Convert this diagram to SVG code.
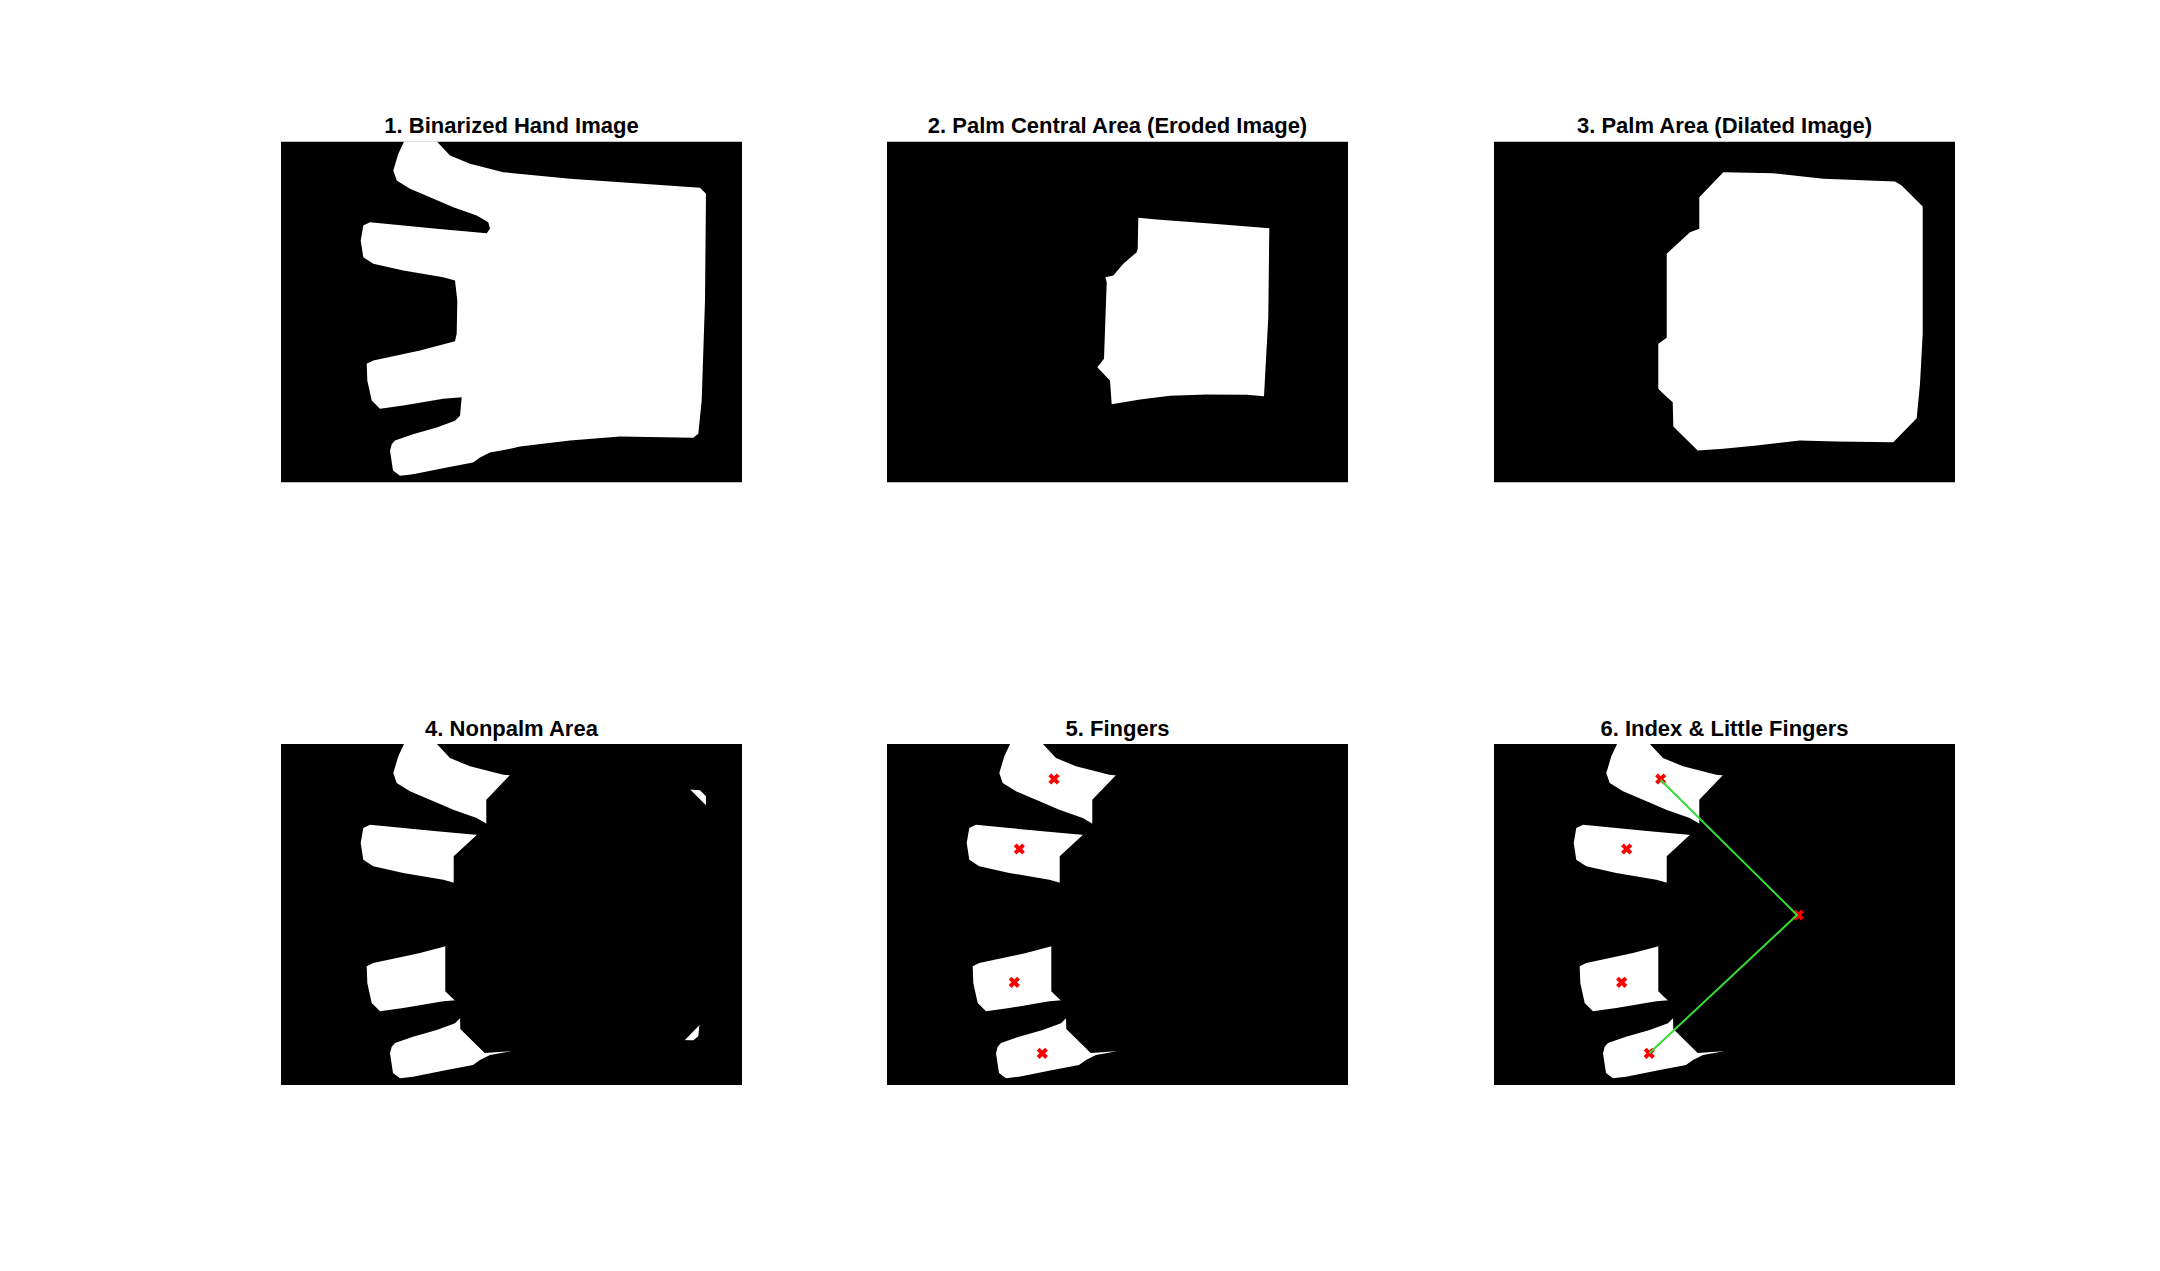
<svg xmlns="http://www.w3.org/2000/svg" xmlns:xlink="http://www.w3.org/1999/xlink" width="2160" height="1271" viewBox="0 0 2160 1271">
<style>
.title{font-family:"Liberation Sans",Arial,Helvetica,sans-serif;font-weight:bold;font-size:22px;fill:#000;text-anchor:middle}
.panel{fill:#000}
.white{fill:#fff}
.mk{stroke:#ff0000;stroke-width:4;fill:none}
.gl{stroke:#33dd33;stroke-width:2;fill:none;stroke-linejoin:miter}
</style>
<defs>
<clipPath id="pclip"><rect x="0" y="0" width="461" height="341"/></clipPath>
<clipPath id="fclip"><rect x="0" y="0" width="300" height="341"/></clipPath>
<path id="hand" d="M124,-2 L154,-2 L169,14 L189,22.3 L222.3,30.7 L289,37.3 L419,46.3 L425,52.3 L424,159 L420.7,259 L417.3,292.3 L412.3,296.3 L339,295 L289,299 L239,305 L223,308.6 L209,311 L199,316 L192,321 L165.7,326 L132,332.7 L119,334.3 L112,329 L109,309.3 L110.7,302.7 L114,299 L132,292.7 L155.7,286 L174,279.3 L179,274.3 L180.7,255.7 L162.3,257.3 L122.3,264 L99,267.3 L90.7,259 L86.3,239 L85.7,222.3 L92.3,219 L139,209 L174,199.7 L175.7,192.3 L176.3,159 L174,139 L162.3,135.7 L122.3,129 L92.3,122.3 L82.3,115.7 L79.7,99 L82.3,84 L89,80.7 L122.3,84 L155.7,87.3 L205.7,91.7 L209,87.3 L207.3,80.7 L195.7,74 L172.3,65.7 L149,55.7 L129,47.3 L115.7,39 L112.3,29 L117.3,12.3 Z"/>
<path id="dilated" d="M229.3,30.7 L279.3,31.7 L329.3,37.3 L401,40 L407.7,44 L428.7,65 L428.7,192.3 L426,242.3 L422.7,276.7 L399.3,300.7 L342.7,300 L306,299 L262.7,304 L229.3,307.3 L203.7,309 L179.3,285 L178.7,260.7 L169.3,252.3 L164.3,247.3 L164.3,202.3 L172.7,196.3 L172.7,112.3 L196,90.7 L205.3,87.3 L205.3,55.7 Z"/>
<path id="eroded" d="M251.3,76.3 L269.7,78 L326.3,82.3 L382.3,86.7 L381.3,175.7 L377,254.7 L359.7,253.3 L319.7,253 L283,254.3 L253,258 L224.7,262.7 L223,239 L210.3,225.7 L217,217.3 L219.7,140.7 L218.3,135.7 L226.3,134 L236.3,122.3 L249.7,110.7 L250.7,107.3 Z"/>
<path id="x" d="M-4.2,-4.2 L4.2,4.2 M-4.2,4.2 L4.2,-4.2"/>
</defs>
<rect width="2160" height="1271" fill="#fff"/>

<g id="panel1">
<text class="title" x="511.5" y="133">1. Binarized Hand Image</text>
<g transform="translate(281,141.5)" clip-path="url(#pclip)">
<rect class="panel" width="461" height="341"/>
<use xlink:href="#hand" class="white"/>
</g>
</g>

<g id="panel2">
<text class="title" x="1117.5" y="133">2. Palm Central Area (Eroded Image)</text>
<g transform="translate(887,141.5)" clip-path="url(#pclip)">
<rect class="panel" width="461" height="341"/>
<use xlink:href="#eroded" class="white"/>
</g>
</g>

<g id="panel3">
<text class="title" x="1724.5" y="133">3. Palm Area (Dilated Image)</text>
<g transform="translate(1494,141.5)" clip-path="url(#pclip)">
<rect class="panel" width="461" height="341"/>
<use xlink:href="#dilated" class="white"/>
</g>
</g>

<g id="panel4">
<text class="title" x="511.5" y="736">4. Nonpalm Area</text>
<g transform="translate(281,744)" clip-path="url(#pclip)">
<rect class="panel" width="461" height="341"/>
<use xlink:href="#hand" class="white"/>
<use xlink:href="#dilated" class="panel"/>
</g>
</g>

<g id="panel5">
<text class="title" x="1117.5" y="736">5. Fingers</text>
<g transform="translate(887,744)" clip-path="url(#pclip)">
<rect class="panel" width="461" height="341"/>
<g clip-path="url(#fclip)"><use xlink:href="#hand" class="white"/></g>
<use xlink:href="#dilated" class="panel"/>
<use xlink:href="#x" class="mk" x="167" y="35"/>
<use xlink:href="#x" class="mk" x="132.3" y="105"/>
<use xlink:href="#x" class="mk" x="127.3" y="238.3"/>
<use xlink:href="#x" class="mk" x="155.3" y="309.3"/>
</g>
</g>

<g id="panel6">
<text class="title" x="1724.5" y="736">6. Index &amp; Little Fingers</text>
<g transform="translate(1494,744)" clip-path="url(#pclip)">
<rect class="panel" width="461" height="341"/>
<g clip-path="url(#fclip)"><use xlink:href="#hand" class="white"/></g>
<use xlink:href="#dilated" class="panel"/>
<use xlink:href="#x" class="mk" x="166.7" y="35"/>
<use xlink:href="#x" class="mk" x="132.7" y="105"/>
<use xlink:href="#x" class="mk" x="127.7" y="238.3"/>
<use xlink:href="#x" class="mk" x="155.3" y="309.3"/>
<use xlink:href="#x" class="mk" x="304.3" y="171"/>
<g id="connectors">
<polyline class="gl" points="166.7,36 303,171 155.3,309.3"/>
</g>
</g>
</g>
</svg>
